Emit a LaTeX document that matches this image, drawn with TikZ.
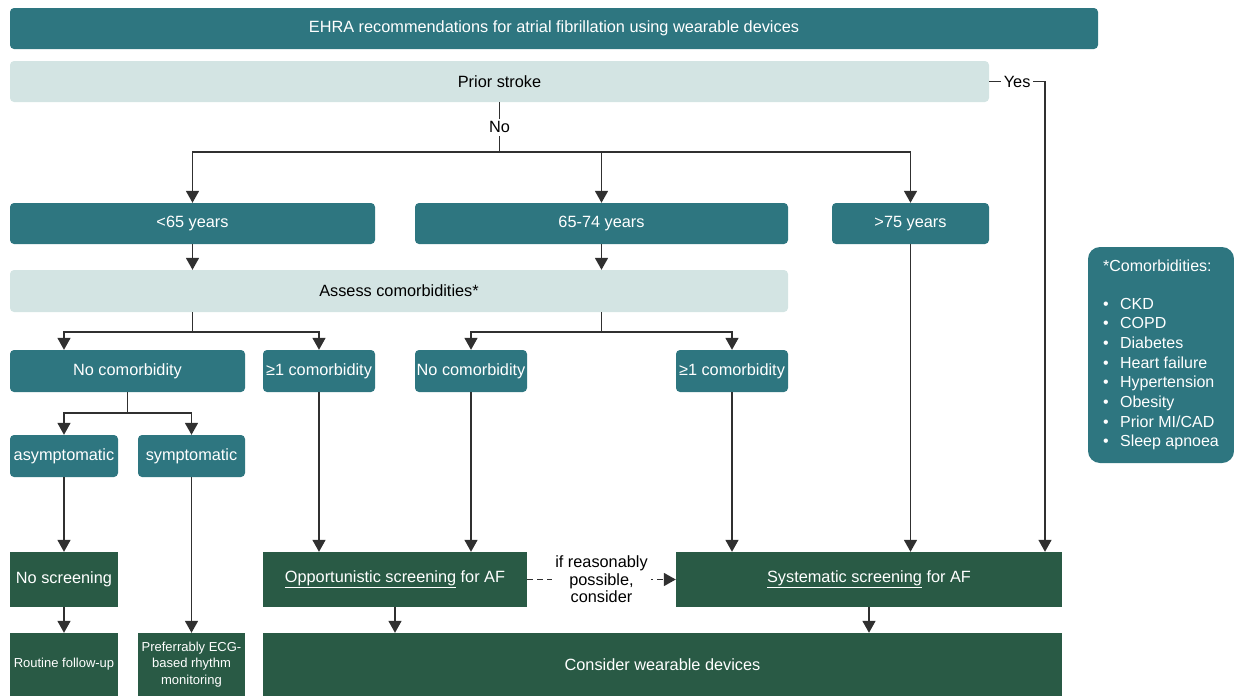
\documentclass[tikz,border=0pt]{standalone}
\usepackage{fontspec}
\setmainfont{Liberation Sans}
\usepackage{tikz}
\usetikzlibrary{arrows.meta}

\definecolor{ehrateal}{HTML}{2E7680}
\definecolor{ehralight}{HTML}{D3E4E3}
\definecolor{ehragreen}{HTML}{295A45}
\definecolor{ehraline}{HTML}{303030}

\tikzset{
	box/.style = {draw = none, inner sep = 0pt, align = center, font = \fontsize{16.3}{19}\selectfont},
	tealbox/.style = {box, fill = ehrateal, text = white, rounded corners = 4pt},
	lightbox/.style = {box, fill = ehralight, text = black, rounded corners = 4pt},
	greenbox/.style = {box, fill = ehragreen, text = white},
	smalltxt/.style = {font = \fontsize{13}{16.5}\selectfont},
	arr/.style = {draw = ehraline, line width = 1.6pt, -{Triangle[width = 13pt, length = 12pt]}},
	lne/.style = {draw = ehraline, line width = 1.6pt},
	lbl/.style = {fill = white, inner sep = 3pt, text = black, align = center, font = \fontsize{16.3}{17.5}\selectfont}
}

\begin{document}
\begin{tikzpicture}[x = 1pt, y = -1pt]
	
		\useasboundingbox (0, 0) rectangle (1234, 696);
		
		\node[tealbox, minimum width = 1088pt, minimum height = 41pt] (title) at (554, 28.5) {EHRA recommendations for atrial fibrillation using wearable devices};
		\node[lightbox, minimum width = 979pt, minimum height = 41pt] (prior) at (499.5, 81.5) {Prior stroke};
		
		\node[tealbox, minimum width = 365pt, minimum height = 41pt] (young) at (192.5, 223.5) {<65 years};
		\node[tealbox, minimum width = 373pt, minimum height = 41pt] (mid) at (601.5, 223.5) {65-74 years};
		\node[tealbox, minimum width = 157pt, minimum height = 41pt] (old) at (910.5, 223.5) {>75 years};
		
		\node[lightbox, minimum width = 778pt, minimum height = 42pt] (assess) at (399, 291) {Assess comorbidities*};
		
		\node[tealbox, minimum width = 235pt, minimum height = 42pt] (nocomA) at (127.5, 371) {No comorbidity};
		\node[tealbox, minimum width = 112pt, minimum height = 42pt] (comA) at (319, 371) {≥1 comorbidity};
		\node[tealbox, minimum width = 112pt, minimum height = 42pt] (nocomB) at (471, 371) {No comorbidity};
		\node[tealbox, minimum width = 112pt, minimum height = 42pt] (comB) at (732, 371) {≥1 comorbidity};
		
		\node[tealbox, minimum width = 108pt, minimum height = 42pt] (asym) at (64, 456) {asymptomatic};
		\node[tealbox, minimum width = 107pt, minimum height = 42pt] (sym) at (191.5, 456) {symptomatic};
		
		\node[greenbox, minimum width = 108pt, minimum height = 55pt] (noscr) at (64, 579.5) {No screening};
		\node[greenbox, minimum width = 264pt, minimum height = 55pt] (opp) at (395, 579.5) {\underline{Opportunistic screening} for AF};
		\node[greenbox, minimum width = 386pt, minimum height = 55pt] (sys) at (869, 579.5) {\underline{Systematic screening} for AF};
		
		\node[greenbox, smalltxt, minimum width = 108pt, minimum height = 63pt] (routine) at (64, 664.5) {Routine follow-up};
		\node[greenbox, smalltxt, minimum width = 107pt, minimum height = 63pt] (ecg) at (191.5, 664.5) {Preferrably ECG-\\based rhythm\\monitoring};
		\node[greenbox, minimum width = 799pt, minimum height = 63pt] (wear) at (662.5, 664.5) {Consider wearable devices};
		
		\node[tealbox, rounded corners = 12pt, align = left, minimum width = 146pt, minimum height = 216pt, font = \fontsize{16}{19.7}\selectfont] (comorb) at (1161, 355) {*Comorbidities:\\[18pt]
			\makebox[17pt][l]{\textbullet}CKD\\
			\makebox[17pt][l]{\textbullet}COPD\\
			\makebox[17pt][l]{\textbullet}Diabetes\\
			\makebox[17pt][l]{\textbullet}Heart failure\\
			\makebox[17pt][l]{\textbullet}Hypertension\\
			\makebox[17pt][l]{\textbullet}Obesity\\
			\makebox[17pt][l]{\textbullet}Prior MI/CAD\\
			\makebox[17pt][l]{\textbullet}Sleep apnoea};
		
		% prior stroke: yes / no
		\coordinate (yes) at (1045, 81.5);
		\draw[arr] (prior.east) -- node[lbl] {Yes} (yes) -- (yes |- sys.north);
		\draw[lne] (prior.south) -- node[lbl] {No} ++(0, 50) coordinate (split);
		\draw[arr] (split) -| (young);
		\draw[arr] (split) -| (mid);
		\draw[arr] (split) -| (old);
		
		\draw[arr] (young) -- (young |- assess.north);
		\draw[arr] (mid) -- (mid |- assess.north);
		
		% comorbidity branches
		\draw[lne] (assess.south -| young) -- ++(0, 20) coordinate (splitA);
		\draw[arr] (splitA) -| (asym |- nocomA.north);
		\draw[arr] (splitA) -| (comA);
		\draw[lne] (assess.south -| mid) -- ++(0, 20) coordinate (splitB);
		\draw[arr] (splitB) -| (nocomB);
		\draw[arr] (splitB) -| (comB);
		
		\draw[lne] (nocomA.south) -- ++(0, 21) coordinate (splitC);
		\draw[arr] (splitC) -| (asym);
		\draw[arr] (splitC) -| (sym);
		
		\draw[arr] (asym) -- (noscr);
		\draw[arr] (sym) -- (ecg);
		\draw[arr] (comA) -- (comA |- opp.north);
		\draw[arr] (nocomB) -- (nocomB |- opp.north);
		\draw[arr] (comB) -- (comB |- sys.north);
		\draw[arr] (old) -- (old |- sys.north);
		
		\draw[arr, dash pattern = on 6pt off 4pt] (opp) -- node[lbl] {if reasonably\\possible,\\consider} (sys);
		
		\draw[arr] (noscr) -- (routine);
		\draw[arr] (opp) -- (opp |- wear.north);
		\draw[arr] (sys) -- (sys |- wear.north);
		
	\end{tikzpicture}
\end{document}
